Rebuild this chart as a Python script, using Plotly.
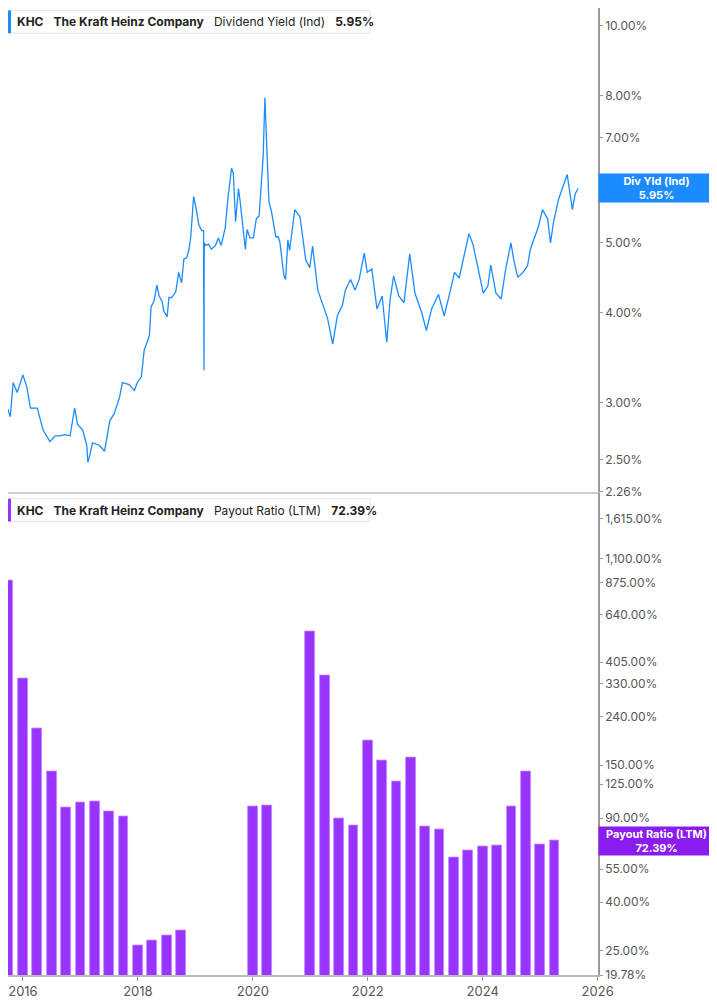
import numpy as np
import plotly.graph_objects as go
from plotly.subplots import make_subplots

# dividend yield (%), decimal years
yield_years = [2015.70, 2015.78, 2015.83, 2015.90, 2016.00, 2016.07, 2016.13, 2016.25, 2016.35, 2016.47,
               2016.56, 2016.64, 2016.73, 2016.82, 2016.90, 2016.95, 2017.04, 2017.11, 2017.13, 2017.16,
               2017.21, 2017.33, 2017.42, 2017.51, 2017.59, 2017.68, 2017.73, 2017.85, 2017.94, 2017.99,
               2018.06, 2018.11, 2018.20, 2018.23, 2018.28, 2018.33, 2018.37, 2018.42, 2018.45, 2018.51,
               2018.54, 2018.59, 2018.66, 2018.71, 2018.76, 2018.80, 2018.85, 2018.89, 2018.92, 2018.97,
               2019.01, 2019.06, 2019.11, 2019.143, 2019.15, 2019.155, 2019.18, 2019.23, 2019.28, 2019.35,
               2019.40, 2019.45, 2019.52, 2019.57, 2019.63, 2019.66, 2019.70, 2019.75, 2019.78, 2019.83,
               2019.87, 2019.90, 2019.95, 2020.01, 2020.06, 2020.11, 2020.14, 2020.18, 2020.21, 2020.23,
               2020.25, 2020.28, 2020.32, 2020.35, 2020.40, 2020.44, 2020.47, 2020.51, 2020.54, 2020.57,
               2020.61, 2020.64, 2020.73, 2020.82, 2020.92, 2020.99, 2021.04, 2021.13, 2021.21, 2021.30,
               2021.39, 2021.47, 2021.56, 2021.61, 2021.70, 2021.78, 2021.85, 2021.94, 2021.99, 2022.07,
               2022.16, 2022.25, 2022.33, 2022.39, 2022.45, 2022.54, 2022.63, 2022.73, 2022.82, 2022.94,
               2023.02, 2023.11, 2023.23, 2023.33, 2023.42, 2023.51, 2023.59, 2023.68, 2023.76, 2023.83,
               2023.92, 2024.01, 2024.09, 2024.14, 2024.23, 2024.32, 2024.40, 2024.49, 2024.54, 2024.61,
               2024.70, 2024.78, 2024.83, 2024.89, 2024.97, 2025.04, 2025.13, 2025.18, 2025.23, 2025.32,
               2025.40, 2025.47, 2025.56, 2025.61, 2025.66]
yield_pct = [3.00, 2.87, 3.20, 3.10, 3.28, 3.15, 2.95, 2.95, 2.75, 2.65,
             2.70, 2.70, 2.71, 2.70, 2.95, 2.80, 2.75, 2.62, 2.48, 2.53,
             2.64, 2.62, 2.57, 2.83, 2.90, 3.05, 3.20, 3.18, 3.12, 3.20,
             3.26, 3.55, 3.72, 4.08, 4.15, 4.37, 4.22, 4.15, 4.02, 3.95,
             4.20, 4.20, 4.28, 4.55, 4.40, 4.75, 4.77, 4.90, 5.10, 5.80,
             5.60, 5.30, 5.20, 5.20, 3.33, 5.00, 4.96, 4.98, 4.90, 4.96,
             5.08, 4.96, 5.25, 5.80, 6.35, 6.25, 5.35, 5.95, 5.70, 5.25,
             4.90, 5.22, 5.08, 5.08, 5.40, 5.45, 5.95, 6.60, 7.95, 7.20,
             6.80, 5.70, 5.55, 5.40, 5.10, 5.10, 5.02, 4.72, 4.50, 4.45,
             5.05, 4.88, 5.56, 5.44, 4.74, 4.62, 4.95, 4.30, 4.13, 3.93,
             3.62, 3.96, 4.10, 4.30, 4.45, 4.30, 4.45, 4.84, 4.55, 4.60,
             4.05, 4.22, 3.64, 4.18, 4.50, 4.22, 4.13, 4.83, 4.26, 4.00,
             3.78, 4.05, 4.24, 3.96, 4.24, 4.55, 4.47, 4.84, 5.15, 4.98,
             4.60, 4.26, 4.36, 4.66, 4.26, 4.18, 4.60, 5.00, 4.74, 4.48,
             4.55, 4.65, 4.90, 5.05, 5.27, 5.56, 5.40, 5.00, 5.33, 5.75,
             6.00, 6.22, 5.56, 5.85, 5.95]

# payout ratio (LTM, %) by quarter end, decimal years
payout_years = [2015.75, 2016.00, 2016.25, 2016.50, 2016.75, 2017.00, 2017.25, 2017.50, 2017.75,
                2018.00, 2018.25, 2018.50, 2018.75,
                2020.00, 2020.25,
                2021.00, 2021.25, 2021.50, 2021.75, 2022.00, 2022.25, 2022.50, 2022.75, 2023.00,
                2023.25, 2023.50, 2023.75, 2024.00, 2024.25, 2024.50, 2024.75, 2025.00, 2025.25]
payout_pct = [890, 346, 214, 141, 99.3, 104.6, 105.3, 95.8, 91.6,
              26.2, 27.5, 29.1, 30.4,
              100.6, 101.9,
              545, 357, 90, 84, 191, 157, 128, 161, 82.8,
              80.6, 61.8, 65.8, 68.5, 69.3, 101, 141.6, 70, 72.39]

yield_ticks = [2.26, 2.5, 3, 4, 5, 7, 8, 10]
payout_ticks = [19.78, 25, 40, 55, 90, 125, 150, 240, 330, 405, 640, 875, 1100, 1615]
year_ticks = [2016, 2018, 2020, 2022, 2024, 2026]

BLUE = "#1a8cff"
PURPLE = "#9933ff"
TAG_PURPLE = "#8a1cf0"
FONT = "Inter"

fig = make_subplots(rows=2, cols=1, shared_xaxes=True)

fig.add_trace(go.Scatter(x=yield_years, y=yield_pct, mode="lines",
                         line=dict(color=BLUE, width=1.3), hoverinfo="skip"), row=1, col=1)
fig.add_trace(go.Bar(x=payout_years, y=payout_pct, width=0.17,
                     marker=dict(color=PURPLE, line=dict(color="#c58cff", width=0.8)),
                     hoverinfo="skip"), row=2, col=1)

axis_common = dict(side="right", type="log", showgrid=False, zeroline=False,
                   showline=True, linecolor="#999", linewidth=1.5,
                   ticks="outside", ticklen=3, tickcolor="#999",
                   tickfont=dict(family=FONT, size=12, color="#555"))
fig.update_yaxes(**axis_common, row=1, col=1, domain=[0.5, 1],
                 range=[np.log10(2.26), np.log10(10.59)],
                 tickvals=yield_ticks, ticktext=[f"{v:.2f}%" for v in yield_ticks])
fig.update_yaxes(**axis_common, row=2, col=1, domain=[0, 0.498],
                 range=[np.log10(19.78), np.log10(2066)],
                 tickvals=payout_ticks, ticktext=[f"{v:,.2f}%" for v in payout_ticks])

fig.update_xaxes(range=[2015.74, 2026.006], showgrid=False, zeroline=False,
                 showline=True, linecolor="#bbb", linewidth=1.5)
fig.update_xaxes(row=2, col=1, tickvals=year_ticks, ticktext=[str(y) for y in year_ticks],
                 ticks="outside", ticklen=4, tickcolor="#999",
                 tickfont=dict(family=FONT, size=13, color="#555"))
fig.update_xaxes(row=1, col=1, showline=True, linecolor="#ccc")

# header boxes
PW = 590
headers = [
    (0.9975, 0.974, BLUE, "<b>KHC</b>   <b>The Kraft Heinz Company</b>   Dividend Yield (Ind)   <b>5.95%</b>"),
    (0.4925, 0.469, PURPLE, "<b>KHC</b>   <b>The Kraft Heinz Company</b>   Payout Ratio (LTM)   <b>72.39%</b>"),
]
for y0, y1, col, txt in headers:
    fig.add_shape(type="rect", xref="paper", yref="paper", x0=0, x1=362 / PW, y0=y1, y1=y0,
                  fillcolor="white", line=dict(color="#e6e6e6", width=1), layer="above")
    fig.add_shape(type="rect", xref="paper", yref="paper", x0=0, x1=3 / PW, y0=y1, y1=y0,
                  fillcolor=col, line=dict(width=0), layer="above")
    fig.add_annotation(xref="paper", yref="paper", x=7 / PW, y=(y0 + y1) / 2, xanchor="left",
                       yanchor="middle", text=txt, showarrow=False,
                       font=dict(family=FONT, size=12, color="#222"))

# right-side value tags
tags = [(5.95, "y", BLUE, "Div Yld (Ind)<br>5.95%"),
        (72.39, "y2", TAG_PURPLE, "Payout Ratio (LTM)<br>72.39%")]
for val, yref, col, txt in tags:
    fig.add_annotation(xref="paper", yref=yref, x=1.0, y=np.log10(val), xanchor="left", yanchor="middle",
                       text=f"<b>{txt}</b>", showarrow=False, bgcolor=col, width=113, height=26,
                       borderpad=1, font=dict(family=FONT, size=11, color="white"))

# page body has an 8px margin, so the figure is sized to fit the window
fig.update_layout(width=709, height=997, margin=dict(l=0, r=119, t=0, b=30),
                  plot_bgcolor="white", paper_bgcolor="white", showlegend=False, bargap=0)

fig.write_html("out.html")
